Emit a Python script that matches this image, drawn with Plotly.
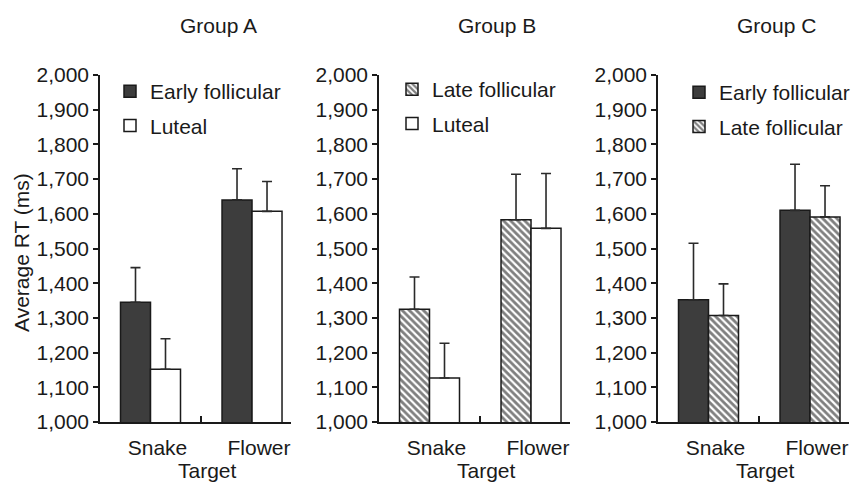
import plotly.graph_objects as go

# ---------------- data ----------------
targets = ["Snake", "Flower"]
y_ticks = [1000, 1100, 1200, 1300, 1400, 1500, 1600, 1700, 1800, 1900, 2000]

group_titles = ["Group A", "Group B", "Group C"]

# Group A
a_early_mean = [1345, 1640]
a_early_err = [100, 90]
a_luteal_mean = [1152, 1607]
a_luteal_err = [88, 86]

# Group B
b_late_mean = [1325, 1583]
b_late_err = [93, 131]
b_luteal_mean = [1127, 1558]
b_luteal_err = [100, 158]

# Group C
c_early_mean = [1352, 1610]
c_early_err = [163, 133]
c_late_mean = [1307, 1591]
c_late_err = [91, 90]

# ---------------- styling ----------------
W, H = 856, 483
FONT = "Liberation Sans, Arial, Helvetica, sans-serif"
TXT = "#1a1a1a"
FS = 21
DARK = "#3d3d3d"
LINE = "#1a1a1a"

def px_x(p):
    return p / W

def px_y(p):
    return 1 - p / H

panel_left = [100, 379, 658]
panel_width = 191
plot_top, plot_bottom = 75, 422

style = {
    "Early follicular": dict(color=DARK, pattern=None),
    "Luteal": dict(color="white", pattern=None),
    "Late follicular": dict(color="white",
                            pattern=dict(shape="\\", fgcolor="#000000", bgcolor="white",
                                         size=5, solidity=0.55)),
}

panels = [
    [("Early follicular", a_early_mean, a_early_err), ("Luteal", a_luteal_mean, a_luteal_err)],
    [("Late follicular", b_late_mean, b_late_err), ("Luteal", b_luteal_mean, b_luteal_err)],
    [("Early follicular", c_early_mean, c_early_err), ("Late follicular", c_late_mean, c_late_err)],
]

fig = go.Figure()

legend_pos = [(110, 71), (392, 69), (679, 72)]

for i, series in enumerate(panels):
    sfx = "" if i == 0 else str(i + 1)
    for j, (name, mean, err) in enumerate(series):
        st = style[name]
        marker = dict(color=st["color"], line=dict(color=LINE, width=1.5))
        if st["pattern"] is not None:
            marker["pattern"] = st["pattern"]
        fig.add_trace(go.Bar(
            x=targets, y=mean, name=name,
            marker=marker,
            error_y=dict(type="data", symmetric=False, array=err,
                         arrayminus=[0] * len(err), width=5, thickness=1.6,
                         color="#2a2a2a"),
            xaxis="x" + sfx, yaxis="y" + sfx,
            legend="legend" + sfx,
            legendgroup=f"p{i}s{j}",
            showlegend=True,
        ))

layout = dict(
    width=W, height=H,
    margin=dict(l=0, r=0, t=0, b=0),
    paper_bgcolor="white", plot_bgcolor="white",
    font=dict(family=FONT, size=FS, color=TXT),
    barmode="group", bargap=0.409, bargroupgap=0,
    showlegend=True,
)

annotations = []
for i in range(3):
    sfx = "" if i == 0 else str(i + 1)
    x0 = panel_left[i]
    layout["xaxis" + sfx] = dict(
        domain=[px_x(x0), px_x(x0 + panel_width)],
        anchor="y" + sfx,
        type="category",
        categoryorder="array", categoryarray=targets,
        range=[-0.4975, 1.384],
        showline=True, linecolor=LINE, linewidth=1.5,
        ticks="inside", tickson="boundaries", ticklen=6, tickwidth=1.5,
        tickcolor=LINE,
        ticklabelshift=7, ticklabelstandoff=6,
        showgrid=False, zeroline=False, automargin=False,
        tickfont=dict(family=FONT, size=FS, color=TXT),
    )
    layout["yaxis" + sfx] = dict(
        domain=[px_y(plot_bottom), px_y(plot_top)],
        anchor="x" + sfx,
        range=[1000, 2000],
        tickvals=y_ticks, tickformat=",d",
        showline=True, linecolor=LINE, linewidth=1.5,
        ticks="outside", ticklen=5, tickwidth=1.5, tickcolor=LINE,
        showgrid=False, zeroline=False, automargin=False,
        tickfont=dict(family=FONT, size=FS, color=TXT),
    )
    lx, ly = legend_pos[i]
    layout["legend" + sfx] = dict(
        x=px_x(lx), y=px_y(ly), xanchor="left", yanchor="top",
        xref="paper", yref="paper",
        bgcolor="rgba(0,0,0,0)", borderwidth=0,
        traceorder="grouped", tracegroupgap=4,
        font=dict(family=FONT, size=FS, color=TXT),
    )
    annotations.append(dict(
        text=group_titles[i], x=px_x(x0 + 118), y=px_y(26),
        xref="paper", yref="paper", showarrow=False,
        xanchor="center", yanchor="middle",
        font=dict(family=FONT, size=FS, color=TXT),
    ))
    annotations.append(dict(
        text="Target", x=px_x(x0 + 107.6), y=px_y(470),
        xref="paper", yref="paper", showarrow=False,
        xanchor="center", yanchor="middle",
        font=dict(family=FONT, size=FS, color=TXT),
    ))

annotations.append(dict(
    text="Average RT (ms)", x=px_x(21), y=px_y(253),
    xref="paper", yref="paper", showarrow=False, textangle=-90,
    xanchor="center", yanchor="middle",
    font=dict(family=FONT, size=FS, color=TXT),
))
layout["annotations"] = annotations

fig.update_layout(**layout)
fig.write_html("out.html", config={"displayModeBar": False},
               post_script="document.body.style.margin='0';")
